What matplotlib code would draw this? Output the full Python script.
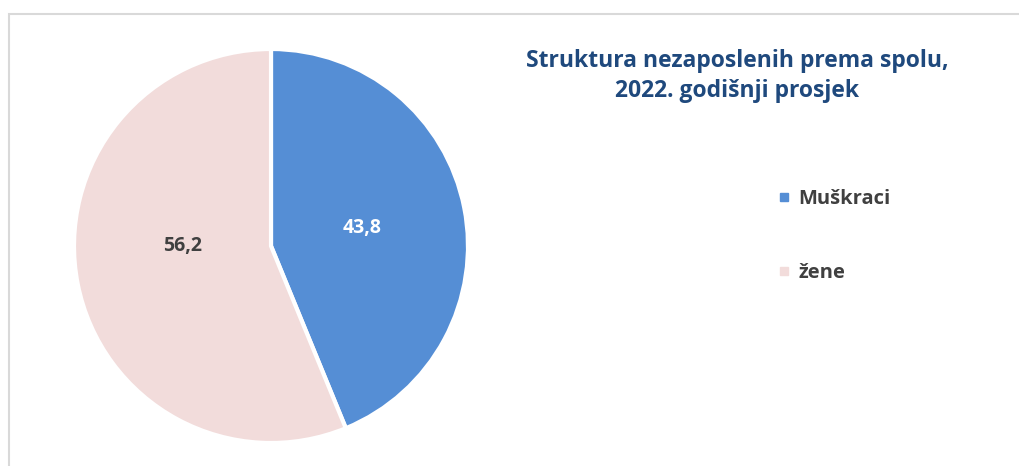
import matplotlib.pyplot as plt
from matplotlib.lines import Line2D
from matplotlib.patches import Rectangle

labels = ["Muškraci", "žene"]
values = [43.8, 56.2]
colors = ["#558ED5", "#F2DCDB"]
label_colors = ["white", "#404040"]

title = "Struktura nezaposlenih prema spolu,\n2022. godišnji prosjek"

plt.rcParams["font.family"] = ["Open Sans", "DejaVu Sans"]

fig = plt.figure(figsize=(10.19, 4.66), dpi=100)

# light gray chart frame (right and bottom edges fall outside the image)
fig.patches.append(
    Rectangle((9 / 1019, -0.2), 1.2, 1.2 + (466 - 13.5) / 466 - 1.0,
              transform=fig.transFigure, fill=False,
              edgecolor="#D9D9D9", linewidth=1.5)
)

ax = fig.add_axes([74 / 1019, 23 / 466, 394 / 1019, 394 / 466])
wedges, texts, autotexts = ax.pie(
    values,
    colors=colors,
    startangle=90,
    counterclock=False,
    radius=1,
    autopct=lambda p: f"{p:.1f}".replace(".", ","),
    pctdistance=0.47,
    wedgeprops=dict(edgecolor="white", linewidth=3),
)
for t, c in zip(autotexts, label_colors):
    t.set_color(c)
    t.set_fontsize(14)
    t.set_fontweight("bold")
# Excel-style placement of the larger slice label
x, y = autotexts[1].get_position()
autotexts[1].set_position((x * 0.97, 0.0))
ax.set_xlim(-1, 1)
ax.set_ylim(-1, 1)
ax.set_aspect("equal")

fig.text(737 / 1019, 1 - 76 / 466, title, ha="center", va="center",
         fontsize=16.5, fontweight="bold", color="#1F497D", linespacing=1.3)

handles = [Line2D([], [], marker="s", linestyle="none", markersize=6,
                  markerfacecolor=c, markeredgecolor=c) for c in colors]
leg = fig.legend(handles, labels, loc="upper left",
                 bbox_to_anchor=(757 / 1019, 1 - 171 / 466),
                 frameon=False, labelspacing=2.7, handletextpad=0.25,
                 handlelength=0.9,
                 prop=dict(size=14.5, weight="bold"))
for t in leg.get_texts():
    t.set_color("#404040")

fig.savefig("out.png", dpi=100)
